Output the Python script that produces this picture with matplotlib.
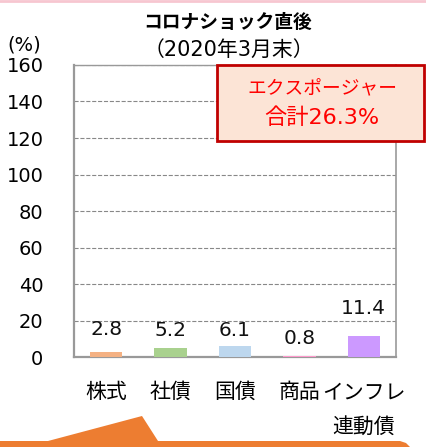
import matplotlib.pyplot as plt
from matplotlib.patches import Polygon, FancyBboxPatch
import numpy as np

plt.rcParams['font.family'] = ['DejaVu Sans', 'Noto Sans CJK JP']

# データ
categories = ['株式', '社債', '国債', '商品', 'インフレ\n連動債']
values = [2.8, 5.2, 6.1, 0.8, 11.4]
labels = ['2.8', '5.2', '6.1', '0.8', '11.4']
colors = ['#F4B183', '#A9D18E', '#BDD7EE', '#FF99CC', '#CC99FF']
label_offsets = [16, 12, 11, 12, 20]  # ラベルの上方向オフセット(pt)
yticks = np.arange(0, 161, 20)

fig = plt.figure(figsize=(4.26, 4.47), dpi=100)
ax = fig.add_axes([0.1737, 0.2013, 0.7559, 0.6533])

x = np.arange(len(categories))
ax.bar(x, values, width=0.5, color=colors, zorder=3)

for xi, v, lab, off in zip(x, values, labels, label_offsets):
    ax.annotate(lab, (xi, v), xytext=(0, off), textcoords='offset points',
                ha='center', va='center', fontsize=14.5, color='#111111')

ax.set_xlim(-0.5, len(categories) - 0.5)
ax.set_ylim(0, 160)
ax.set_yticks(yticks)
ax.set_yticklabels([str(t) for t in yticks], fontsize=14)
ax.set_xticks(x)
ax.set_xticklabels(categories, fontsize=15, linespacing=1.9, va='top')
ax.tick_params(axis='both', length=0)
ax.tick_params(axis='y', pad=22)
ax.tick_params(axis='x', pad=18)

ax.grid(axis='y', linestyle='--', color='#888888', linewidth=0.8, zorder=0)
for s in ['left', 'right', 'top', 'bottom']:
    ax.spines[s].set_color('#999999')
ax.spines['left'].set_linewidth(1.6)
ax.spines['bottom'].set_linewidth(1.6)
ax.spines['right'].set_linewidth(1.2)
ax.spines['top'].set_linewidth(1.0)

# タイトル
fig.text(0.535, 0.950, 'コロナショック直後', ha='center', va='center',
         fontsize=13.5, fontweight='bold')
fig.text(0.537, 0.889, '（2020年3月末）', ha='center', va='center', fontsize=15)
fig.text(0.058, 0.899, '(%)', ha='center', va='center', fontsize=14)

# 注記ボックス
box = FancyBboxPatch((217 / 426, 1 - 141 / 447), 207 / 426, 76 / 447,
                     boxstyle='square,pad=0', transform=fig.transFigure,
                     facecolor='#FCE4D6', edgecolor='#C00000', linewidth=2, zorder=5)
fig.patches.append(box)
fig.text(322 / 426, 1 - 89 / 447, 'エクスポージャー', ha='center', va='center',
         fontsize=13.5, color='#FF0000', zorder=6)
fig.text(322 / 426, 1 - 118 / 447, '合計26.3%', ha='center', va='center',
         fontsize=16, color='#FF0000', zorder=6)

# 上部のピンク線
fig.add_artist(plt.Line2D([0, 1], [0.998, 0.998], color='#F7C6D0', linewidth=2,
                          transform=fig.transFigure))

# 下部のオレンジ図形
pts = [(0, 441), (48, 441), (142, 416), (158, 441), (400, 441), (406, 443),
       (410, 447), (0, 447)]
orange = Polygon([(px / 426, 1 - py / 447) for px, py in pts], closed=True,
                 transform=fig.transFigure, facecolor='#ED7D31', edgecolor='none')
fig.patches.append(orange)

fig.savefig('out.png', dpi=100)
